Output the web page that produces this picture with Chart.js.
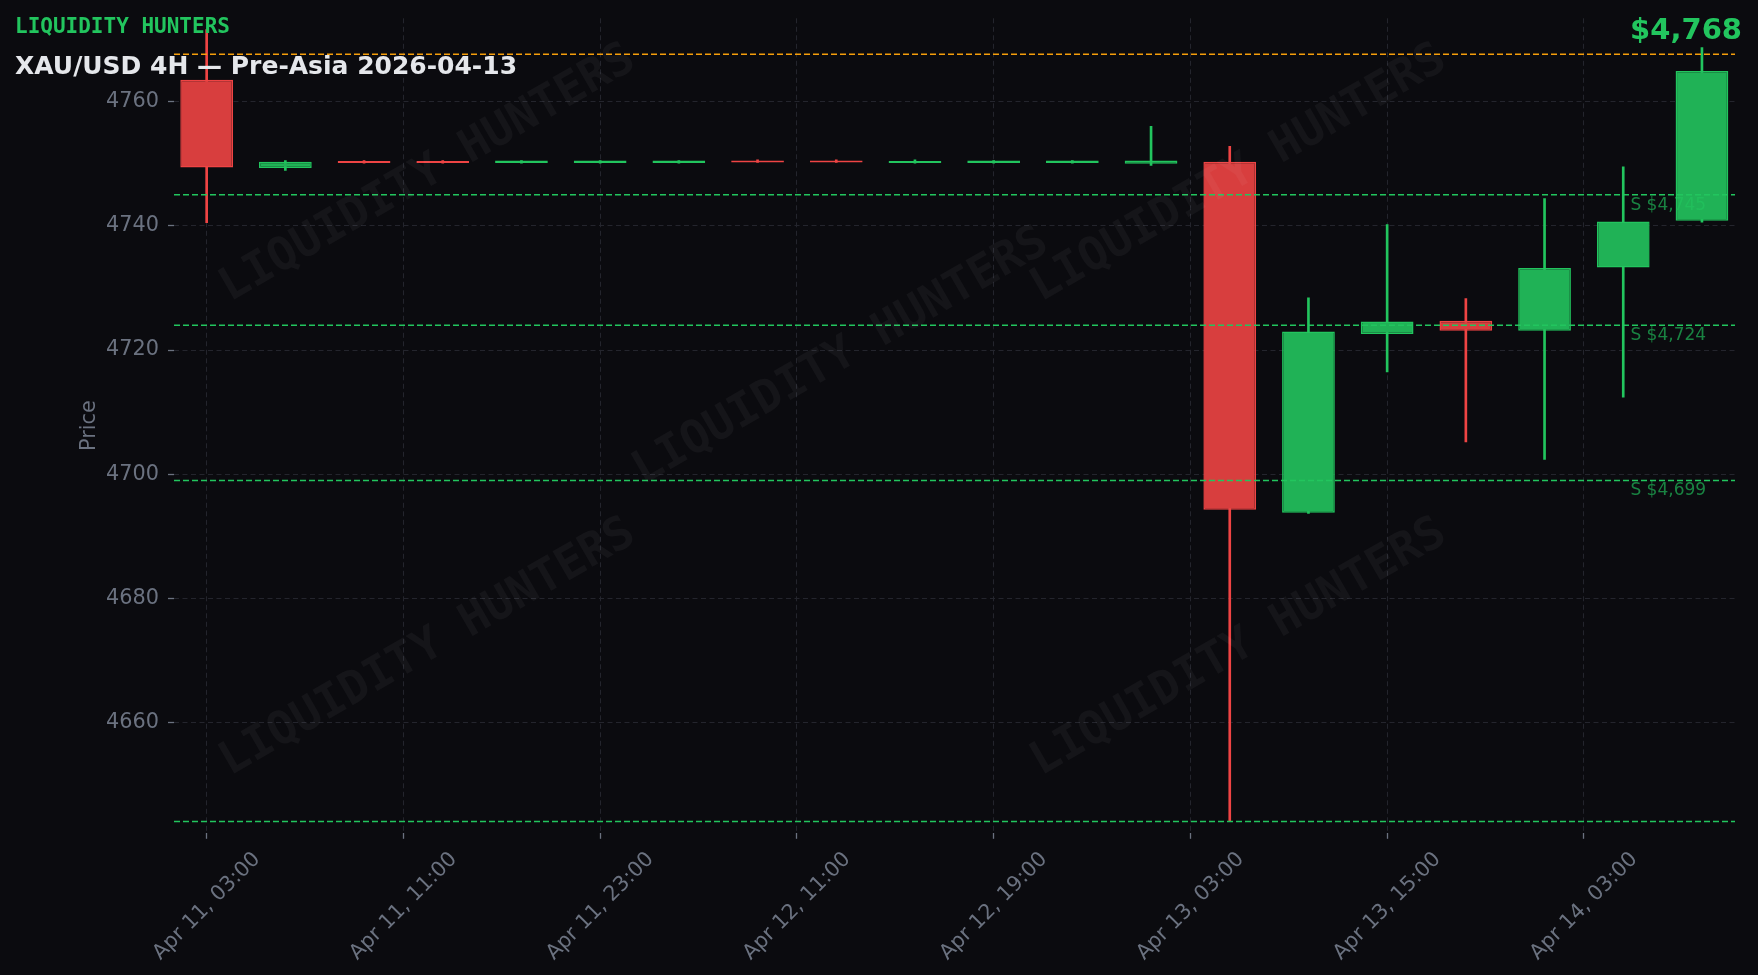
<!DOCTYPE html>
<html>
<head>
<meta charset="utf-8">
<title>XAU/USD 4H — Pre-Asia 2026-04-13</title>
<script src="https://cdn.jsdelivr.net/npm/chart.js@4.4.1/dist/chart.umd.min.js"></script>
<style>
  html, body { margin: 0; padding: 0; background: #0b0b0f; }
  #wrap { width: 1758px; height: 975px; position: relative; }
</style>
</head>
<body>
<div id="wrap"><canvas id="chartGold"></canvas></div>
<script>
// 4H candles, Apr 11 03:00 -> Apr 14 07:00
var opens  = [4763.5, 4749.3, 4750.3, 4750.3, 4750.1, 4750.1, 4750.1, 4750.4, 4750.4, 4750.1, 4750.1, 4750.1, 4750.0, 4750.3, 4693.8, 4722.6, 4724.7, 4723.1, 4733.3, 4740.8];
var highs  = [4771.6, 4750.5, 4750.5, 4750.5, 4750.5, 4750.5, 4750.5, 4750.6, 4750.6, 4750.6, 4750.5, 4750.5, 4756.0, 4752.8, 4728.4, 4740.2, 4728.3, 4744.4, 4749.5, 4768.7];
var lows   = [4740.5, 4748.9, 4750.1, 4750.1, 4750.1, 4750.1, 4750.1, 4750.2, 4750.2, 4750.1, 4750.1, 4750.1, 4749.7, 4644.1, 4693.7, 4716.5, 4705.2, 4702.4, 4712.4, 4740.6];
var closes = [4749.4, 4750.3, 4750.1, 4750.1, 4750.5, 4750.5, 4750.5, 4750.2, 4750.2, 4750.4, 4750.5, 4750.5, 4750.5, 4694.3, 4723.0, 4724.6, 4723.1, 4733.2, 4740.7, 4764.9];

var tickPos = [0, 2.5, 5, 7.5, 10, 12.5, 15, 17.5];
var tickLabels = ["Apr 11, 03:00", "Apr 11, 11:00", "Apr 11, 23:00", "Apr 12, 11:00", "Apr 12, 19:00", "Apr 13, 03:00", "Apr 13, 15:00", "Apr 14, 03:00"];
var priceTicks = [4660, 4680, 4700, 4720, 4740, 4760];

var supports = [4745, 4724, 4699, 4644.1];
var supportLabels = ["S $4,745", "S $4,724", "S $4,699", ""];
var lastPrice = 4767.6;
var lastPriceLabel = "$4,768";

var BG = "#0b0b0f";
var GREEN = "#22c55e";
var RED = "#ef4444";
var GRID = "#24252d";
var MUTED = "#6b7280";
var X_MIN = -0.415, X_MAX = 19.42;

var bodyData = [], wickData = [], bodyFill = [], bodyEdge = [];
for (var i = 0; i < opens.length; i++) {
    var up = closes[i] >= opens[i];
    bodyData.push({x: i, y: [opens[i], closes[i]]});
    wickData.push({x: i, y: [lows[i], highs[i]]});
    bodyFill.push(up ? "#20b256" : "#d83e3e");
    bodyEdge.push(up ? GREEN : RED);
}

function levelLine(value, color) {
    return {
        type: "line",
        data: [{x: X_MIN, y: value}, {x: X_MAX, y: value}],
        borderColor: color,
        borderWidth: 1.5,
        borderDash: [6, 3],
        pointRadius: 0,
        fill: false,
        order: 0
    };
}

var datasets = [
    {
        label: "body",
        data: bodyData,
        backgroundColor: bodyFill,
        borderColor: bodyEdge,
        borderWidth: 1.5,
        borderSkipped: false,
        grouped: false,
        categoryPercentage: 1,
        barPercentage: 0.67,
        minBarLength: 2,
        order: 1
    },
    {
        label: "wick",
        data: wickData,
        backgroundColor: bodyEdge,
        borderWidth: 0,
        grouped: false,
        barThickness: 2,
        order: 2
    },
    levelLine(lastPrice, "#f59e0b")
];
supports.forEach(function (s) { datasets.push(levelLine(s, GREEN)); });

var marks = [[428, 174], [1239, 174], [841, 357], [428, 648], [1239, 648]];

var overlay = {
    id: "overlay",
    beforeDraw: function (chart) {
        var ctx = chart.ctx;
        ctx.save();
        ctx.fillStyle = BG;
        ctx.fillRect(0, 0, chart.width, chart.height);
        ctx.restore();
    },
    afterDatasetsDraw: function (chart) {
        var ctx = chart.ctx, area = chart.chartArea, y = chart.scales.y;
        ctx.save();
        // watermark
        ctx.font = "bold 46px 'DejaVu Sans Mono'";
        ctx.fillStyle = "rgba(255,255,255,0.045)";
        ctx.textAlign = "center";
        ctx.textBaseline = "middle";
        marks.forEach(function (m) {
            ctx.save();
            ctx.translate(m[0], m[1]);
            ctx.rotate(-30 * Math.PI / 180);
            ctx.fillText("LIQUIDITY HUNTERS", 0, 0);
            ctx.restore();
        });
        // support labels
        ctx.font = "17px 'DejaVu Sans'";
        ctx.fillStyle = "rgba(34,197,94,0.65)";
        ctx.textAlign = "left";
        ctx.textBaseline = "top";
        var lx = area.left + 0.933 * (area.right - area.left);
        supports.forEach(function (s, k) {
            if (supportLabels[k]) ctx.fillText(supportLabels[k], lx, y.getPixelForValue(s) + 2);
        });
        ctx.restore();
    },
    afterDraw: function (chart) {
        var ctx = chart.ctx;
        ctx.save();
        ctx.textBaseline = "alphabetic";
        ctx.textAlign = "left";
        ctx.fillStyle = GREEN;
        ctx.font = "bold 21px 'DejaVu Sans Mono'";
        ctx.fillText("LIQUIDITY HUNTERS", 15, 33);
        ctx.fillStyle = "#e5e7eb";
        ctx.font = "bold 25px 'DejaVu Sans'";
        ctx.fillText("XAU/USD 4H — Pre-Asia 2026-04-13", 15, 74);
        ctx.fillStyle = GREEN;
        ctx.font = "bold 29px 'DejaVu Sans'";
        ctx.textAlign = "right";
        ctx.fillText(lastPriceLabel, 1742, 39);
        ctx.restore();
    }
};

var tickFont = {family: "DejaVu Sans", size: 20.8};

var gold = document.getElementById("chartGold").getContext("2d");
var chart = new Chart(gold, {
    type: "bar",
    data: { datasets: datasets },
    options: {
        responsive: true,
        maintainAspectRatio: false,
        animation: false,
        layout: { padding: { top: 18.3, right: 23, bottom: 0, left: 0 } },
        plugins: { legend: { display: false }, tooltip: { enabled: false } },
        scales: {
            x: {
                type: "linear",
                min: X_MIN,
                max: X_MAX,
                offset: false,
                afterBuildTicks: function (axis) { axis.ticks = tickPos.map(function (v) { return {value: v}; }); },
                afterFit: function (axis) {
                    axis.height = 142.2;
                    axis.paddingLeft = 0;
                    axis.paddingRight = 0;
                },
                grid: { color: GRID, lineWidth: 1, offset: false, tickLength: 6, tickColor: MUTED, tickWidth: 1.3 },
                border: { display: false, dash: [5, 3.5] },
                ticks: {
                    autoSkip: false, minRotation: 45, maxRotation: 45,
                    padding: 8.5, labelOffset: 50.5, color: MUTED, font: tickFont,
                    callback: function (v, i) { return tickLabels[i]; }
                }
            },
            y: {
                type: "linear",
                min: 4642.3,
                max: 4773.4,
                afterBuildTicks: function (axis) { axis.ticks = priceTicks.map(function (v) { return {value: v}; }); },
                afterFit: function (axis) {
                    axis.width = 174;
                    axis.paddingTop = 0;
                    axis.paddingBottom = 0;
                },
                grid: { color: GRID, lineWidth: 1, tickLength: 6, tickColor: MUTED, tickWidth: 1.3 },
                border: { display: false, dash: [5, 3.5] },
                ticks: { padding: 9, color: MUTED, font: tickFont, callback: function (v) { return String(v); } },
                title: { display: true, text: "Price", color: MUTED, font: tickFont, padding: { top: 77.5, bottom: 0 } }
            }
        }
    },
    plugins: [overlay]
});
</script>
</body>
</html>
